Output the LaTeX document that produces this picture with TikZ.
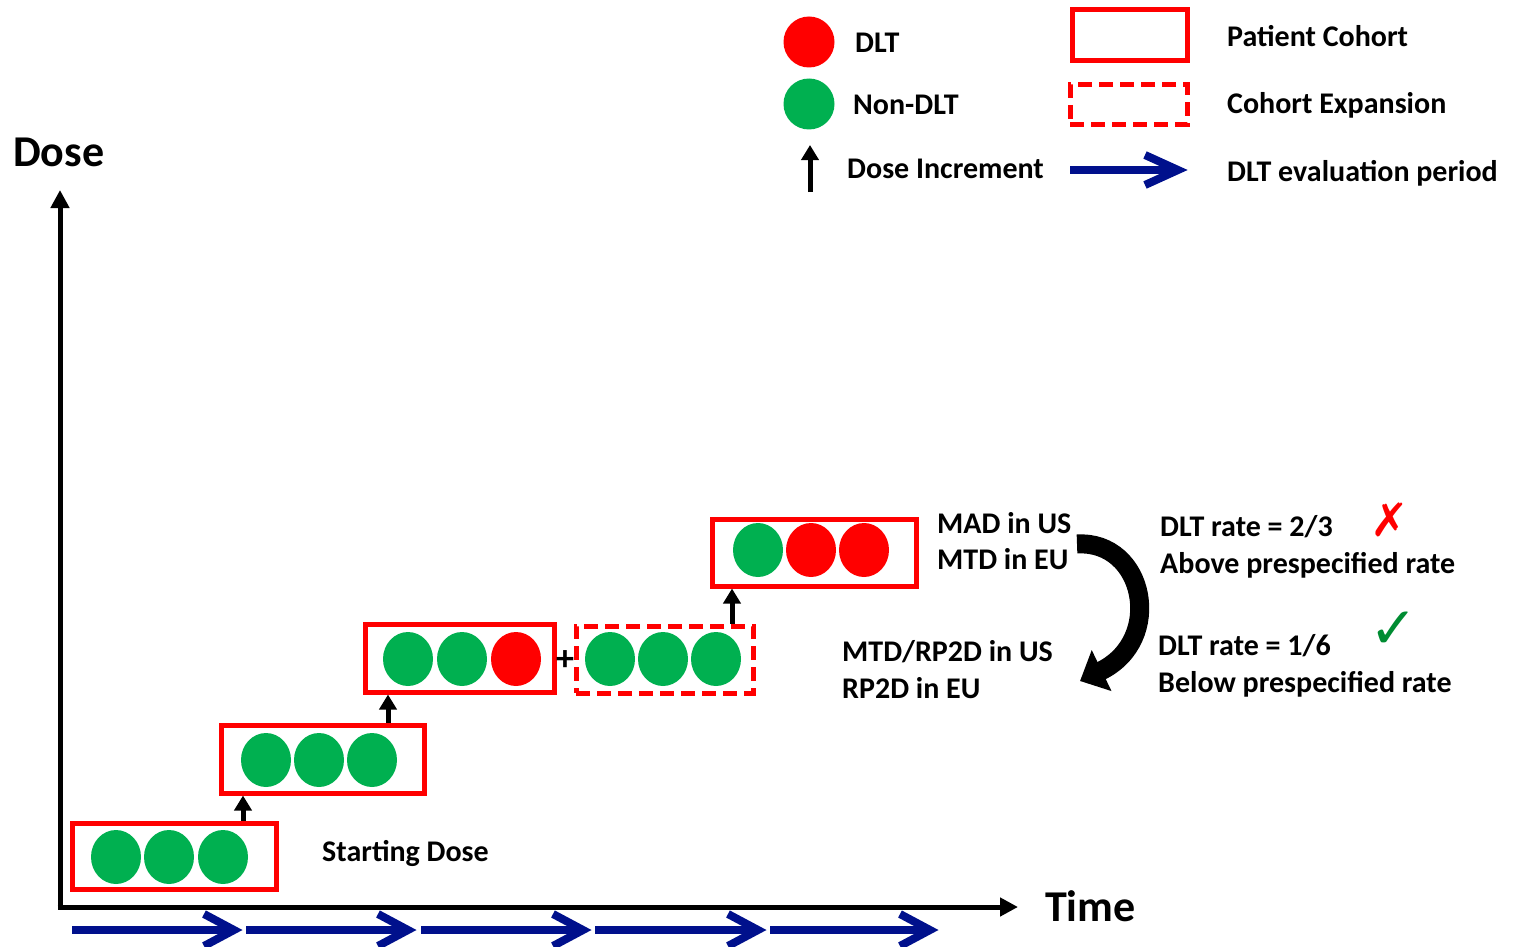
\documentclass[tikz,border=0pt]{standalone}
\usepackage{fontspec}
\setmainfont{Carlito}
\newfontfamily\symfont{DejaVu Sans}
\usetikzlibrary{arrows.meta,shapes.geometric}
\definecolor{boxred}{RGB}{255,0,0}
\definecolor{dotred}{RGB}{255,0,0}
\definecolor{dotgreen}{RGB}{0,176,80}
\definecolor{navyblue}{RGB}{0,16,140}
\definecolor{checkgreen}{RGB}{0,140,50}
\begin{document}
\begin{tikzpicture}[x=1pt,y=-1pt,
 txt/.style={font=\fontsize{30}{36}\selectfont\bfseries, inner sep=0pt, anchor=base west},
 big/.style={font=\fontsize{44}{50}\selectfont\bfseries, inner sep=0pt, anchor=base west},
 cohort/.style={draw=boxred, line width=5pt, inner sep=0pt},
 expansion/.style={cohort, dash pattern=on 14pt off 7pt},
 dot/.style={ellipse, minimum width=50pt, minimum height=54pt, inner sep=0pt},
 dlt/.style={dot, fill=dotred},
 ndlt/.style={dot, fill=dotgreen},
 inc/.style={line width=5pt, -{Triangle[length=15pt,width=17pt]}},
 axisline/.style={line width=5pt, -{Triangle[length=18pt,width=18pt]}},
 period/.style={draw=navyblue, line width=8pt},
 chevron/.style={draw=navyblue, line width=8pt, line join=miter},
]
\useasboundingbox (0,0) rectangle (1515,947);

% axes
\coordinate (origin) at (60,907);
\coordinate (ytip) at (60,190);
\coordinate (xtip) at (1018,907);
\draw[axisline] ([yshift=-2.5pt]origin) -- (ytip);
\draw[axisline] ([xshift=-2.5pt]origin) -- (xtip);
\node[big] (dose) at (13,166) {Dose};
\node[big] (time) at (1045,921) {Time};

% DLT evaluation periods
\foreach \s/\e [count=\i] in {72/242, 246/416, 421/591, 595/766, 770/938} {
  \coordinate (ps\i) at (\s,930);
  \coordinate (pe\i) at (\e,930);
  \draw[period] (ps\i) -- ([xshift=-8pt]pe\i);
  \draw[chevron] ([shift={(-38,-16)}]pe\i) -- ([xshift=-8pt]pe\i) -- ([shift={(-38,16)}]pe\i);
}

% cohorts
\node[cohort, minimum width=204pt, minimum height=66pt] (b1) at (174,856) {};
\node[ndlt] (b1c1) at (116,857) {};
\node[ndlt] (b1c2) at (169,857) {};
\node[ndlt] (b1c3) at (223,857) {};

\node[cohort, minimum width=203pt, minimum height=68pt] (b2) at (322.5,759) {};
\node[ndlt] (b2c1) at (266,760) {};
\node[ndlt] (b2c2) at (319,760) {};
\node[ndlt] (b2c3) at (372,760) {};

\node[cohort, minimum width=189pt, minimum height=68pt] (b3) at (459.5,658) {};
\node[ndlt] (b3c1) at (408,659) {};
\node[ndlt] (b3c2) at (462,659) {};
\node[dlt] (b3c3) at (516,659) {};

\node[font=\fontsize{36}{36}\selectfont\bfseries, inner sep=0pt] (plus) at (565,661) {+};

\node[expansion, minimum width=177pt, minimum height=67pt] (b4) at (664.5,659.5) {};
\node[ndlt] (b4c1) at (610,659) {};
\node[ndlt] (b4c2) at (663,659) {};
\node[ndlt] (b4c3) at (716,659) {};

\node[cohort, minimum width=204pt, minimum height=67pt] (b5) at (814,552.5) {};
\node[ndlt] (b5c1) at (758,550) {};
\node[dlt] (b5c2) at (811,550) {};
\node[dlt] (b5c3) at (864,550) {};

% dose increments
\coordinate (i1) at (243,0);
\coordinate (i2) at (388,0);
\coordinate (i3) at (732,0);
\draw[inc] (b1.north -| i1) -- (b2.south -| i1);
\draw[inc] (b2.north -| i2) -- (b3.south -| i2);
\draw[inc] (b4.north -| i3) -- (b5.south -| i3);

% texts
\node[txt] (start) at (322,861) {Starting Dose};
\node[txt] (mad) at (937,533) {MAD in US};
\node[txt] (mtd) at (937,569) {MTD in EU};
\node[txt] (rp2dus) at (842,661) {MTD/RP2D in US};
\node[txt] (rp2deu) at (842,698) {RP2D in EU};
\node[txt] (rate1) at (1160,536) {DLT rate = 2/3};
\node[txt] (above) at (1160,573) {Above prespecified rate};
\node[txt] (rate2) at (1158,655) {DLT rate = 1/6};
\node[txt] (below) at (1158,692) {Below prespecified rate};
\node[font=\symfont\fontsize{46}{46}\selectfont, text=boxred, inner sep=0pt] (xmark) at (1390,520) {✗};
\node[font=\symfont\fontsize{58}{58}\selectfont, text=checkgreen, inner sep=0pt] (check) at (1394,630) {✓};

% curved arrow
\coordinate (cs) at (1077,544);
\coordinate (ce) at (1080,681);
\draw[line width=19pt, -{Triangle[length=24pt,width=44pt]}] (cs) .. controls (1145,540) and (1165,640) .. (ce);

% legend
\node[dlt, minimum width=51pt, minimum height=51pt] (ldlt) at (809,42) {};
\node[txt] (ldlttxt) at (855,53) {DLT};
\node[ndlt, minimum width=51pt, minimum height=51pt] (lndlt) at (809,104) {};
\node[txt] (lndlttxt) at (853,115) {Non-DLT};
\coordinate (lincs) at (810,192);
\coordinate (lince) at (810,145);
\draw[inc] (lincs) -- (lince);
\node[txt] (linctxt) at (847,178) {Dose Increment};
\node[cohort, minimum width=115pt, minimum height=51pt] (lcoh) at (1129.5,35.5) {};
\node[txt] (lcohtxt) at (1227,47) {Patient Cohort};
\node[expansion, minimum width=117pt, minimum height=40pt] (lexp) at (1128.5,105) {};
\node[txt] (lexptxt) at (1227,114) {Cohort Expansion};
\coordinate (lps) at (1070,170);
\coordinate (lpe) at (1186,170);
\draw[period] (lps) -- ([xshift=-8pt]lpe);
\draw[chevron] ([shift={(-41,-15)}]lpe) -- ([xshift=-8pt]lpe) -- ([shift={(-41,15)}]lpe);
\node[txt] (lpertxt) at (1227,181) {DLT evaluation period};
\end{tikzpicture}
\end{document}
